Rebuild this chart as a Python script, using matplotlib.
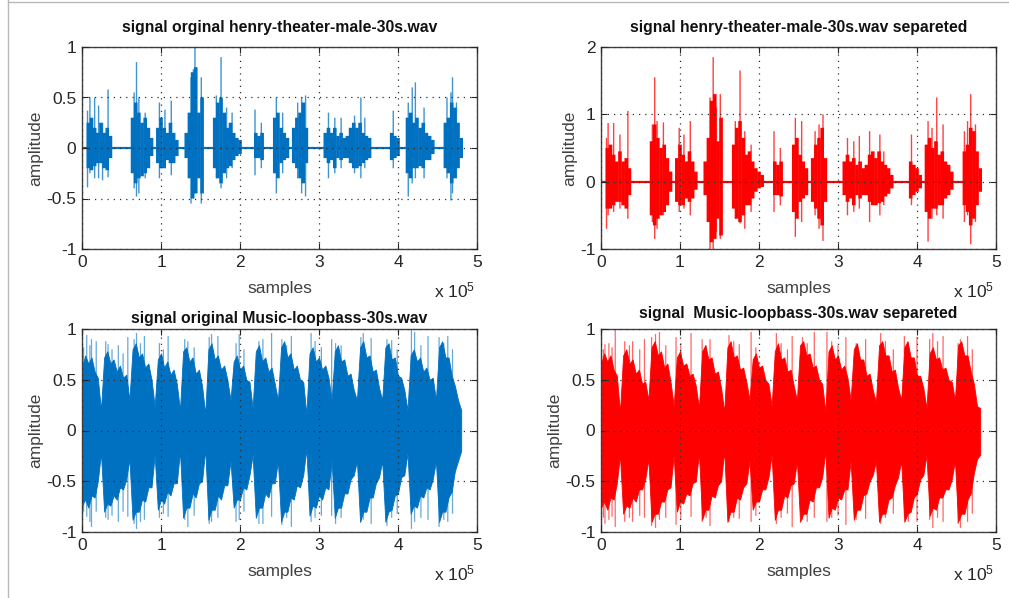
import numpy as np
import matplotlib
matplotlib.use("Agg")
import matplotlib.pyplot as plt
from matplotlib.lines import Line2D
from matplotlib.ticker import FuncFormatter

plt.rcParams['font.family'] = ['Liberation Sans', 'DejaVu Sans']
plt.rcParams['mathtext.fontset'] = 'custom'
plt.rcParams['mathtext.rm'] = 'Liberation Sans'
plt.rcParams['mathtext.it'] = 'Liberation Sans'

SCALE = 1e5          # x data below is in units of 1e5 samples
SIGNAL_END = 4.8     # 30 s signal length (x 1e5 samples)

BLUE = '#0070C0'
RED = '#FF0000'

# ---------------- speech, original (top-left) ----------------
tl_x = [0.08, 0.12, 0.16, 0.20, 0.24, 0.28, 0.32, 0.36,
        0.64, 0.68, 0.72, 0.76, 0.80, 0.84, 0.88,
        0.96, 1.00, 1.04, 1.08, 1.12, 1.16, 1.20,
        1.32, 1.36, 1.40, 1.44, 1.48, 1.52,
        1.68, 1.72, 1.76, 1.80, 1.84, 1.88, 1.92, 1.96, 2.00,
        2.20, 2.24, 2.28,
        2.44, 2.48, 2.52, 2.56, 2.60,
        2.68, 2.72, 2.76, 2.80, 2.84,
        3.08, 3.12, 3.16, 3.20, 3.24, 3.28, 3.32, 3.36,
        3.40, 3.44, 3.48, 3.52, 3.56, 3.60, 3.64,
        3.92, 3.96, 4.00,
        4.12, 4.16, 4.20, 4.24, 4.28, 4.32, 4.36, 4.40, 4.44,
        4.60, 4.64, 4.68, 4.72, 4.76, 4.80]
tl_up = [0.25, 0.30, 0.20, 0.15, 0.25, 0.15, 0.20, 0.12,
         0.30, 0.45, 0.35, 0.25, 0.30, 0.20, 0.10,
         0.20, 0.30, 0.20, 0.15, 0.25, 0.15, 0.08,
         0.15, 0.35, 0.75, 0.80, 0.35, 0.50,
         0.30, 0.45, 0.50, 0.35, 0.20, 0.25, 0.15, 0.10, 0.08,
         0.15, 0.12, 0.15,
         0.30, 0.35, 0.20, 0.15, 0.10,
         0.20, 0.30, 0.35, 0.45, 0.20,
         0.15, 0.20, 0.15, 0.20, 0.12, 0.15, 0.10, 0.12,
         0.20, 0.25, 0.20, 0.25, 0.15, 0.12, 0.10,
         0.15, 0.12, 0.10,
         0.30, 0.35, 0.25, 0.30, 0.20, 0.25, 0.15, 0.12, 0.08,
         0.25, 0.30, 0.45, 0.40, 0.25, 0.10]
tl_lo = [-0.20, -0.22, -0.18, -0.15, -0.15, -0.20, -0.22, -0.10,
         -0.25, -0.35, -0.30, -0.28, -0.25, -0.20, -0.08,
         -0.15, -0.20, -0.20, -0.12, -0.15, -0.15, -0.08,
         -0.10, -0.30, -0.50, -0.45, -0.30, -0.45,
         -0.20, -0.30, -0.35, -0.25, -0.20, -0.18, -0.12, -0.08, -0.06,
         -0.10, -0.10, -0.12,
         -0.25, -0.30, -0.15, -0.12, -0.10,
         -0.15, -0.20, -0.30, -0.35, -0.15,
         -0.10, -0.15, -0.12, -0.20, -0.10, -0.12, -0.10, -0.10,
         -0.15, -0.20, -0.20, -0.18, -0.15, -0.12, -0.10,
         -0.12, -0.10, -0.08,
         -0.25, -0.30, -0.20, -0.20, -0.18, -0.20, -0.12, -0.12, -0.06,
         -0.20, -0.25, -0.35, -0.30, -0.20, -0.10]
tl_spike_x = [0.07, 0.10, 0.16, 0.21, 0.26, 0.33, 0.66, 0.69, 0.72, 0.80,
              0.98, 1.05, 1.13, 1.38, 1.41, 1.43, 1.51, 1.70, 1.76, 1.83,
              1.90, 2.19, 2.27, 2.46, 2.54, 2.73, 2.78, 2.83, 3.12, 3.20,
              3.28, 3.45, 3.53, 3.58, 3.94, 4.13, 4.18, 4.22, 4.33, 4.62,
              4.67, 4.69, 4.74]
tl_spike_top = [0.37, 0.50, 0.50, 0.42, 0.25, 0.58, 0.55, 0.85, 0.50, 0.35,
                0.45, 0.38, 0.47, 0.70, 0.78, 1.00, 0.70, 0.52, 0.90, 0.40,
                0.35, 0.38, 0.25, 0.50, 0.35, 0.45, 0.50, 0.52, 0.35, 0.30,
                0.30, 0.32, 0.50, 0.30, 0.37, 0.45, 0.60, 0.65, 0.40, 0.50,
                0.55, 0.70, 0.45]
tl_spike_bot = [-0.39, -0.25, -0.30, -0.30, -0.32, -0.29, -0.40, -0.48, -0.45, -0.30,
                -0.30, -0.20, -0.27, -0.55, -0.50, -0.45, -0.55, -0.30, -0.40, -0.30,
                -0.20, -0.27, -0.20, -0.45, -0.25, -0.30, -0.45, -0.48, -0.30, -0.25,
                -0.20, -0.25, -0.30, -0.20, -0.20, -0.48, -0.35, -0.30, -0.30, -0.30,
                -0.52, -0.45, -0.30]

# ---------------- speech, separated (top-right) ----------------
tr_x = [0.08, 0.12, 0.16, 0.20, 0.24, 0.28, 0.32, 0.36,
        0.64, 0.68, 0.72, 0.76, 0.80, 0.84, 0.88,
        0.96, 1.00, 1.04, 1.08, 1.12, 1.16, 1.20,
        1.32, 1.36, 1.40, 1.44, 1.48, 1.52,
        1.68, 1.72, 1.76, 1.80, 1.84, 1.88, 1.92, 1.96, 2.00, 2.04,
        2.20, 2.24, 2.28,
        2.44, 2.48, 2.52, 2.56, 2.60,
        2.68, 2.72, 2.76, 2.80, 2.84,
        3.08, 3.12, 3.16, 3.20, 3.24, 3.28, 3.32, 3.36,
        3.40, 3.44, 3.48, 3.52, 3.56, 3.60, 3.64, 3.68,
        3.92, 3.96, 4.00, 4.04,
        4.12, 4.16, 4.20, 4.24, 4.28, 4.32, 4.36, 4.40, 4.44,
        4.60, 4.64, 4.68, 4.72, 4.76, 4.80]
tr_up = [0.50, 0.55, 0.40, 0.30, 0.45, 0.30, 0.35, 0.20,
         0.60, 0.85, 0.65, 0.50, 0.55, 0.35, 0.15,
         0.35, 0.55, 0.40, 0.30, 0.45, 0.30, 0.15,
         0.30, 0.65, 1.20, 1.30, 0.60, 0.95,
         0.55, 0.80, 0.90, 0.65, 0.40, 0.45, 0.30, 0.20, 0.15, 0.10,
         0.30, 0.25, 0.30,
         0.55, 0.65, 0.40, 0.30, 0.20,
         0.35, 0.55, 0.65, 0.80, 0.35,
         0.30, 0.40, 0.30, 0.35, 0.25, 0.30, 0.20, 0.25,
         0.40, 0.45, 0.35, 0.45, 0.30, 0.25, 0.20, 0.10,
         0.30, 0.25, 0.20, 0.10,
         0.55, 0.65, 0.50, 0.60, 0.40, 0.45, 0.30, 0.25, 0.15,
         0.45, 0.55, 0.80, 0.75, 0.45, 0.20]
tr_lo = [-0.40, -0.40, -0.35, -0.30, -0.30, -0.35, -0.40, -0.20,
         -0.50, -0.65, -0.55, -0.50, -0.45, -0.35, -0.15,
         -0.30, -0.35, -0.35, -0.25, -0.30, -0.25, -0.12,
         -0.20, -0.60, -0.90, -0.85, -0.55, -0.80,
         -0.40, -0.55, -0.60, -0.50, -0.35, -0.35, -0.25, -0.15, -0.10, -0.08,
         -0.20, -0.20, -0.22,
         -0.45, -0.55, -0.30, -0.25, -0.20,
         -0.30, -0.40, -0.55, -0.65, -0.30,
         -0.20, -0.30, -0.25, -0.35, -0.20, -0.25, -0.20, -0.20,
         -0.30, -0.35, -0.35, -0.32, -0.30, -0.22, -0.18, -0.10,
         -0.25, -0.20, -0.15, -0.10,
         -0.45, -0.55, -0.40, -0.40, -0.35, -0.35, -0.25, -0.20, -0.12,
         -0.35, -0.45, -0.65, -0.55, -0.35, -0.15]
tr_spike_x = [0.07, 0.09, 0.16, 0.24, 0.34, 0.65, 0.68, 0.71, 0.79,
              0.99, 1.05, 1.13, 1.38, 1.42, 1.46, 1.51, 1.70, 1.76, 1.82,
              1.90, 2.19, 2.27, 2.46, 2.54, 2.71, 2.76, 2.81, 3.12, 3.20,
              3.27, 3.40, 3.53, 3.58, 3.93, 4.14, 4.19, 4.25, 4.33, 4.60,
              4.64, 4.68, 4.74]
tr_spike_top = [0.65, 0.87, 0.87, 0.70, 1.05, 0.85, 1.55, 0.90, 0.88,
                0.80, 0.70, 0.90, 1.25, 1.85, 1.10, 1.30, 0.90, 1.65, 0.75,
                0.55, 0.75, 0.50, 0.95, 0.90, 0.75, 0.85, 1.00, 0.65, 0.60,
                0.68, 0.75, 0.70, 0.45, 0.70, 0.90, 0.80, 1.25, 0.85, 0.75,
                0.90, 1.30, 0.85]
tr_spike_bot = [-0.70, -0.50, -0.45, -0.40, -0.55, -0.60, -0.85, -0.70, -0.50,
                -0.45, -0.40, -0.50, -1.00, -1.00, -0.75, -0.85, -0.55, -0.62, -0.70,
                -0.45, -0.45, -0.35, -0.82, -0.60, -0.50, -0.70, -0.88, -0.50, -0.45,
                -0.40, -0.60, -0.50, -0.35, -0.35, -0.89, -0.55, -0.50, -0.55, -0.60,
                -0.50, -0.93, -0.60]

# ---------------- music (bottom row), envelope every 0.04e5 samples ----------------
music_x = np.round(np.arange(0, 4.8001, 0.04), 2)
bl_up = [0.62, 0.74, 0.66, 0.72, 0.58, 0.52, 0.20,
         0.72, 0.78, 0.66, 0.70, 0.58, 0.64, 0.52, 0.55, 0.30,
         0.80, 0.86, 0.72, 0.76, 0.62, 0.66, 0.50, 0.24,
         0.70, 0.76, 0.62, 0.68, 0.55, 0.60, 0.46, 0.20,
         0.78, 0.82, 0.68, 0.72, 0.56, 0.60, 0.44, 0.16,
         0.80, 0.86, 0.70, 0.74, 0.60, 0.64, 0.50, 0.30,
         0.68, 0.74, 0.60, 0.64, 0.50, 0.48, 0.22,
         0.78, 0.84, 0.68, 0.72, 0.58, 0.62, 0.46, 0.30,
         0.82, 0.88, 0.72, 0.76, 0.60, 0.64, 0.50, 0.48, 0.16,
         0.76, 0.82, 0.68, 0.72, 0.60, 0.64, 0.52, 0.30,
         0.78, 0.84, 0.68, 0.70, 0.54, 0.56, 0.40, 0.30,
         0.82, 0.88, 0.72, 0.74, 0.58, 0.60, 0.42, 0.30,
         0.82, 0.86, 0.70, 0.72, 0.54, 0.52, 0.40, 0.20,
         0.74, 0.80, 0.68, 0.72, 0.58, 0.62, 0.50, 0.52, 0.30,
         0.82, 0.88, 0.72, 0.72, 0.54, 0.44, 0.30, 0.20]
bl_lo = [-0.74, -0.68, -0.76, -0.64, -0.66, -0.50, -0.22,
         -0.80, -0.72, -0.74, -0.64, -0.68, -0.56, -0.58, -0.48, -0.28,
         -0.88, -0.80, -0.80, -0.68, -0.70, -0.56, -0.56, -0.24,
         -0.78, -0.68, -0.72, -0.60, -0.64, -0.52, -0.52, -0.20,
         -0.86, -0.76, -0.76, -0.62, -0.66, -0.52, -0.50, -0.18,
         -0.88, -0.78, -0.78, -0.64, -0.68, -0.54, -0.54, -0.30,
         -0.76, -0.68, -0.68, -0.56, -0.58, -0.44, -0.24,
         -0.86, -0.76, -0.76, -0.62, -0.66, -0.52, -0.52, -0.30,
         -0.90, -0.80, -0.80, -0.66, -0.68, -0.54, -0.56, -0.44, -0.18,
         -0.84, -0.74, -0.76, -0.64, -0.68, -0.56, -0.58, -0.30,
         -0.86, -0.76, -0.76, -0.62, -0.62, -0.48, -0.44, -0.30,
         -0.90, -0.80, -0.80, -0.66, -0.66, -0.52, -0.46, -0.30,
         -0.90, -0.80, -0.78, -0.64, -0.62, -0.46, -0.44, -0.22,
         -0.82, -0.74, -0.76, -0.64, -0.66, -0.56, -0.58, -0.48, -0.30,
         -0.90, -0.80, -0.80, -0.66, -0.60, -0.40, -0.30, -0.20]
bl_spike_x = [0.02, 0.06, 0.10, 0.12, 0.18, 0.30, 0.33, 0.38, 0.46, 0.52,
              0.58, 0.66, 0.69, 0.74, 0.79, 0.98, 1.03, 1.09, 1.30, 1.34,
              1.42, 1.61, 1.64, 1.72, 1.95, 1.99, 2.05, 2.24, 2.29, 2.40,
              2.53, 2.59, 2.65, 2.90, 2.95, 3.03, 3.16, 3.21, 3.28, 3.53,
              3.56, 3.66, 3.86, 3.92, 3.99, 4.17, 4.21, 4.29, 4.38, 4.52,
              4.58, 4.63, 4.69]
bl_spike_top = [0.82, 0.94, 0.84, 0.90, 0.88, 0.88, 0.85, 0.80, 0.84, 0.76,
                0.92, 0.90, 0.96, 0.86, 0.93, 0.86, 0.80, 0.93, 0.90, 0.88,
                0.82, 0.92, 0.95, 0.93, 0.86, 0.95, 0.80, 0.88, 0.90, 0.96,
                0.90, 0.84, 0.93, 0.96, 0.88, 0.82, 0.90, 0.86, 0.84, 0.92,
                0.96, 0.91, 0.90, 0.89, 0.80, 0.99, 0.97, 0.84, 0.93, 0.92,
                0.86, 0.93, 0.80]
bl_spike_bot = [-0.80, -0.85, -0.90, -0.95, -0.80, -0.86, -0.88, -0.84, -0.90, -0.80,
                -0.85, -0.92, -0.97, -0.90, -0.88, -0.86, -0.82, -0.85, -0.88, -0.95,
                -0.84, -0.92, -0.90, -0.86, -0.90, -0.88, -0.80, -0.92, -0.92, -0.85,
                -0.93, -0.86, -0.95, -0.90, -0.86, -0.84, -0.84, -0.92, -0.86, -0.90,
                -0.88, -0.92, -0.94, -0.86, -0.82, -0.97, -0.90, -0.86, -0.88, -0.95,
                -0.88, -0.90, -0.82]

br_up = [0.66, 0.76, 0.68, 0.74, 0.60, 0.54, 0.18,
         0.74, 0.80, 0.66, 0.70, 0.56, 0.60, 0.46, 0.48, 0.30,
         0.82, 0.88, 0.74, 0.78, 0.62, 0.66, 0.48, 0.24,
         0.72, 0.78, 0.64, 0.66, 0.54, 0.56, 0.44, 0.22,
         0.78, 0.84, 0.70, 0.72, 0.56, 0.58, 0.42, 0.18,
         0.82, 0.88, 0.72, 0.74, 0.60, 0.62, 0.48, 0.30,
         0.70, 0.76, 0.62, 0.64, 0.50, 0.46, 0.24,
         0.78, 0.86, 0.70, 0.72, 0.58, 0.60, 0.44, 0.30,
         0.84, 0.88, 0.74, 0.76, 0.62, 0.64, 0.50, 0.46, 0.18,
         0.78, 0.84, 0.70, 0.74, 0.60, 0.64, 0.52, 0.30,
         0.80, 0.86, 0.70, 0.70, 0.54, 0.56, 0.40, 0.28,
         0.84, 0.88, 0.74, 0.74, 0.58, 0.60, 0.42, 0.30,
         0.82, 0.88, 0.72, 0.72, 0.54, 0.54, 0.42, 0.22,
         0.76, 0.82, 0.70, 0.72, 0.60, 0.62, 0.50, 0.48, 0.30,
         0.84, 0.88, 0.74, 0.74, 0.58, 0.46, 0.24, 0.22]
br_lo = [-0.76, -0.70, -0.78, -0.66, -0.68, -0.52, -0.24,
         -0.82, -0.74, -0.76, -0.66, -0.70, -0.58, -0.58, -0.48, -0.28,
         -0.90, -0.82, -0.82, -0.70, -0.70, -0.58, -0.56, -0.24,
         -0.80, -0.70, -0.72, -0.62, -0.64, -0.52, -0.50, -0.22,
         -0.88, -0.78, -0.78, -0.64, -0.66, -0.54, -0.50, -0.20,
         -0.90, -0.80, -0.80, -0.66, -0.68, -0.56, -0.52, -0.30,
         -0.78, -0.70, -0.70, -0.58, -0.58, -0.46, -0.24,
         -0.88, -0.78, -0.78, -0.64, -0.66, -0.54, -0.52, -0.30,
         -0.90, -0.82, -0.82, -0.68, -0.70, -0.56, -0.56, -0.46, -0.20,
         -0.86, -0.76, -0.78, -0.66, -0.68, -0.58, -0.58, -0.30,
         -0.88, -0.78, -0.78, -0.64, -0.62, -0.50, -0.44, -0.30,
         -0.90, -0.82, -0.82, -0.68, -0.66, -0.54, -0.46, -0.30,
         -0.90, -0.82, -0.80, -0.66, -0.62, -0.48, -0.44, -0.24,
         -0.84, -0.76, -0.78, -0.66, -0.66, -0.58, -0.58, -0.48, -0.30,
         -0.90, -0.82, -0.82, -0.68, -0.62, -0.42, -0.28, -0.24]
br_spike_x = [0.03, 0.05, 0.10, 0.14, 0.18, 0.30, 0.36, 0.40, 0.49, 0.55,
              0.64, 0.69, 0.74, 0.82, 0.95, 1.01, 1.14, 1.28, 1.33, 1.38,
              1.62, 1.68, 1.75, 1.90, 1.96, 2.22, 2.28, 2.36, 2.42, 2.55,
              2.61, 2.70, 2.86, 2.92, 3.00, 3.10, 3.23, 3.35, 3.54, 3.60,
              3.70, 3.84, 3.89, 4.00, 4.16, 4.20, 4.26, 4.33, 4.52, 4.55,
              4.64, 4.70]
br_spike_top = [0.80, 0.85, 0.86, 0.82, 0.99, 0.88, 0.84, 0.88, 0.80, 0.90,
                0.92, 0.95, 0.97, 0.84, 0.92, 0.86, 0.96, 0.90, 0.84, 0.90,
                0.94, 0.88, 0.85, 0.97, 0.82, 0.96, 0.86, 0.80, 0.93, 0.92,
                0.86, 0.97, 0.97, 0.88, 0.84, 0.92, 0.86, 0.90, 0.96, 0.88,
                0.80, 0.93, 0.86, 0.92, 0.90, 0.96, 0.88, 0.93, 0.86, 0.90,
                0.93, 0.80]
br_spike_bot = [-0.86, -0.92, -0.88, -0.85, -0.95, -0.90, -0.86, -0.90, -0.84, -0.86,
                -0.94, -0.96, -0.88, -0.86, -0.93, -0.88, -0.85, -0.90, -0.86, -0.94,
                -0.90, -0.86, -0.87, -0.90, -0.84, -0.92, -0.86, -0.82, -0.95, -0.88,
                -0.90, -0.86, -0.90, -0.86, -0.84, -0.93, -0.88, -0.87, -0.92, -0.86,
                -0.82, -0.85, -0.90, -0.90, -0.88, -0.96, -0.86, -0.90, -0.92, -0.96,
                -0.90, -0.82]

titles = ['signal orginal henry-theater-male-30s.wav',
          'signal henry-theater-male-30s.wav separeted',
          'signal original Music-loopbass-30s.wav',
          'signal  Music-loopbass-30s.wav separeted']
x_ticks = [0, 1, 2, 3, 4, 5]
y_ticks_a = [-1, -0.5, 0, 0.5, 1]
y_ticks_b = [-1, 0, 1, 2]

W, H = 1009, 598
fig = plt.figure(figsize=(W / 100, H / 100), dpi=100)
fig.patch.set_facecolor('white')


def px_axes(left, top, right, bottom):
    return fig.add_axes([left / W, 1 - bottom / H, (right - left) / W, (bottom - top) / H])


ax_tl = px_axes(82, 47, 477, 249)
ax_tr = px_axes(601, 47, 996, 249)
ax_bl = px_axes(82, 329, 477, 532)
ax_br = px_axes(601, 329, 996, 532)

TXT = '#262626'


def style(ax, ylim, yticks, title, pad):
    ax.set_xlim(0, x_ticks[-1] * SCALE)
    ax.set_ylim(*ylim)
    ax.set_xticks(np.array(x_ticks) * SCALE)
    ax.xaxis.set_major_formatter(FuncFormatter(lambda v, p: f'{v / SCALE:g}'))
    ax.set_yticks(yticks)
    ax.yaxis.set_major_formatter(FuncFormatter(lambda v, p: f'{v:g}'))
    ax.tick_params(direction='in', top=True, right=True, length=4, width=0.8,
                   labelsize=12.5, colors=TXT, pad=4)
    ax.grid(True, linestyle=(0, (1, 4)), color='#303030', linewidth=0.9)
    ax.set_axisbelow(False)
    for s in ax.spines.values():
        s.set_color('#404040')
        s.set_linewidth(1.0)
    ax.set_title(title, fontsize=11.3, fontweight='bold', color='#111111', pad=pad)
    ax.set_xlabel('samples', fontsize=12.5, color='#404040', labelpad=8)
    ax.set_ylabel('amplitude', fontsize=12.5, color='#404040', labelpad=2)
    ax.text(0.995, -0.205, r'x 10$^5$', transform=ax.transAxes, ha='right',
            va='center', fontsize=12.5, color=TXT)


def draw_speech(ax, xs, up, lo, sx, stop, sbot, color):
    ax.hlines(0, 0, SIGNAL_END * SCALE, color=color, lw=1.6, zorder=1)
    ax.vlines(np.array(sx) * SCALE, sbot, stop, color=color, lw=1.0, alpha=0.75,
              zorder=1, snap=False)
    ax.vlines(np.array(xs) * SCALE, lo, up, color=color, lw=2.6, zorder=2, snap=False)


def draw_music(ax, xs, up, lo, sx, stop, sbot, color):
    ax.vlines(np.array(sx) * SCALE, sbot, stop, color=color, lw=0.9, alpha=0.6,
              zorder=1, snap=False)
    ax.fill_between(np.array(xs) * SCALE, lo, up, color=color, lw=0.6,
                    edgecolor=color, zorder=2)


draw_speech(ax_tl, tl_x, tl_up, tl_lo, tl_spike_x, tl_spike_top, tl_spike_bot, BLUE)
draw_speech(ax_tr, tr_x, tr_up, tr_lo, tr_spike_x, tr_spike_top, tr_spike_bot, RED)
draw_music(ax_bl, music_x, bl_up, bl_lo, bl_spike_x, bl_spike_top, bl_spike_bot, BLUE)
draw_music(ax_br, music_x, br_up, br_lo, br_spike_x, br_spike_top, br_spike_bot, RED)

style(ax_tl, (-1, 1), y_ticks_a, titles[0], 11)
style(ax_tr, (-1, 2), y_ticks_b, titles[1], 11)
style(ax_bl, (-1, 1), y_ticks_a, titles[2], 4.5)
style(ax_br, (-1, 1), y_ticks_a, titles[3], 8)

# thin frame of the screenshot
fig.add_artist(Line2D([7.5 / W, 7.5 / W], [0, 1], transform=fig.transFigure,
                      color='#b8b8b8', lw=1))
fig.add_artist(Line2D([7.5 / W, 1], [1 - 1.5 / H, 1 - 1.5 / H], transform=fig.transFigure,
                      color='#b8b8b8', lw=1))

fig.savefig('out.png', dpi=100)
